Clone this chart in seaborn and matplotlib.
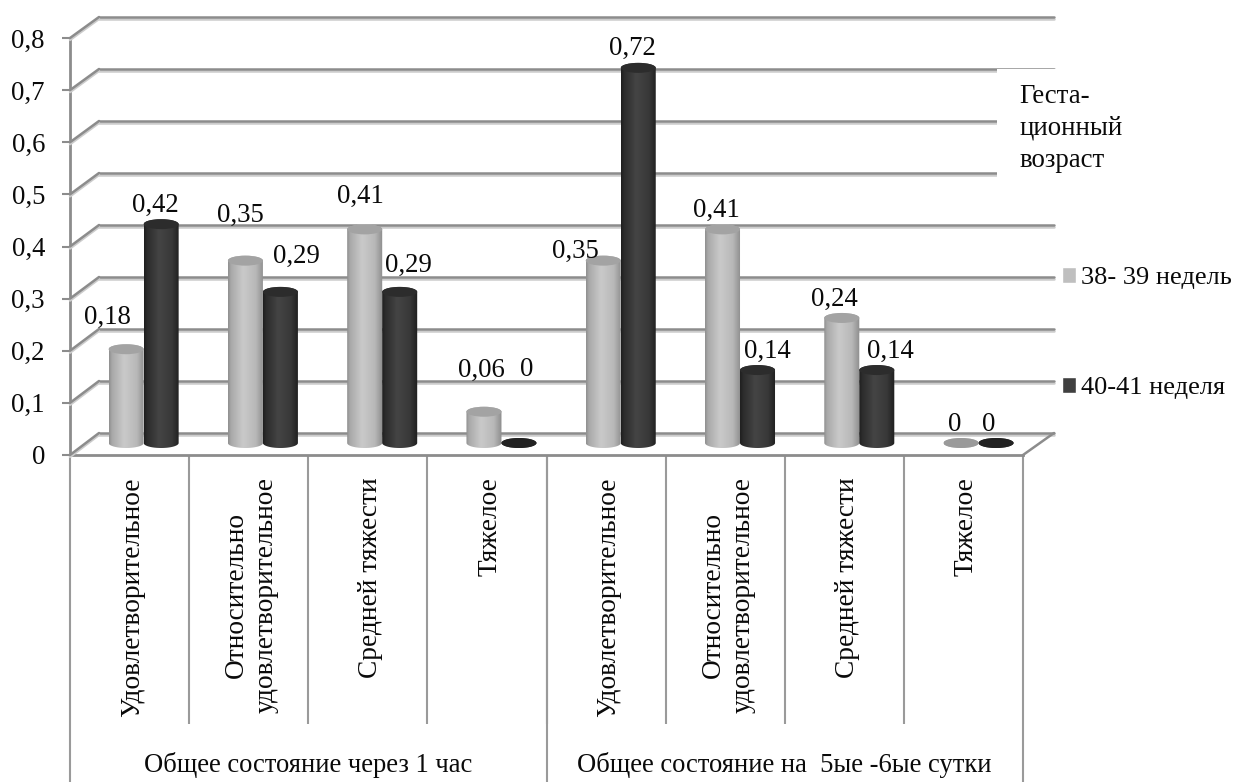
import numpy as np
import pandas as pd
import seaborn as sns
import matplotlib
matplotlib.use("Agg")
import matplotlib.pyplot as plt
from matplotlib.patches import Ellipse, PathPatch, Patch, Rectangle, ConnectionPatch
from matplotlib.path import Path
from matplotlib.patheffects import SimpleLineShadow, Normal
from matplotlib.ticker import FuncFormatter

# ---- data ----
groups = ["Общее состояние через 1 час", "Общее состояние на  5ые -6ые сутки"]
conditions = ["Удовлетворительное", "Относительно\nудовлетворительное", "Средней тяжести", "Тяжелое"]
series_names = ["38- 39 недель", "40-41 неделя"]
values_38_39 = [0.18, 0.35, 0.41, 0.06, 0.35, 0.41, 0.24, 0.0]
values_40_41 = [0.42, 0.29, 0.29, 0.0, 0.72, 0.14, 0.14, 0.0]
value_ticks = [0, 0.1, 0.2, 0.3, 0.4, 0.5, 0.6, 0.7, 0.8]
legend_title = "Геста-\nционный\nвозраст"

# ---- style / layout (pixels) ----
W, H = 1234, 782
FS = 19.3
GRID = "#8c8c8c"
SEP = "#9a9a9a"
LIGHT, DARK = "#bfbfbf", "#404040"
label_shift_38 = [(-19, 34), (-5, 48), (-4, 35), (-3, 44), (-28, 12), (-6, 21), (-7, 21), (-6, 21)]
label_shift_40 = [(-6, 21), (16, 38), (9, 29), (8, 76), (-6, 22), (10, 21), (14, 21), (-7, 21)]
DIGIT_HALF = 9  # px between the digit centre and the baseline

sns.set_theme(style="white")
plt.rcParams["font.family"] = ["Liberation Serif", "DejaVu Serif"]
plt.rcParams["text.color"] = "#0a0a0a"

fig = plt.figure(figsize=(W / 100, H / 100), dpi=100, facecolor="white")


def axes_px(left, right, top, bottom):
    return fig.add_axes([left / W, 1 - bottom / H, (right - left) / W, (bottom - top) / H])


# back wall
wall = axes_px(99, 1054, 17, 433)
wall.set_xlim(0, 8)
wall.set_ylim(0, 0.8)
wall.set_yticks(value_ticks)
wall.set_xticks([])
wall.tick_params(length=0, labelleft=False)
wall.grid(True, axis="y", color=GRID, lw=1.8)
for ln in wall.get_ygridlines():
    ln.set_clip_on(False)
    ln.set_path_effects([SimpleLineShadow(offset=(0, -1.6), shadow_color="#cccccc", alpha=1), Normal()])
sns.despine(ax=wall, left=True, bottom=True)
wall.patch.set_alpha(0)
wall.add_patch(Rectangle((7.52, 0.45), 0.6, 0.25, fc="white", ec="none", zorder=5, clip_on=False))

# front axis
front = axes_px(70, 1023, 38, 455)
front.patch.set_alpha(0)
front.set_xlim(0, 8)
front.set_ylim(0, 0.8)
front.set_yticks(value_ticks)
front.yaxis.set_major_formatter(FuncFormatter(lambda v, _: f"{v:.1f}".replace(".", ",") if v else "0"))
front.tick_params(axis="y", length=5.5, width=1.5, color=GRID, pad=12.5, labelsize=FS, left=True)
sns.despine(ax=front, top=True, right=True)
for side in ("left", "bottom"):
    front.spines[side].set_color(GRID)
    front.spines[side].set_linewidth(2.0)
for lbl in front.get_yticklabels():
    lbl.set_color("#0a0a0a")

# multi-level category axis
front.set_xticks(range(1, 8))
front.tick_params(axis="x", which="major", length=269 * 0.72, width=1.5, color=SEP, labelbottom=False, bottom=True)
front.set_xticks(np.arange(8) + 0.525, [c for _ in groups for c in conditions], minor=True)
front.tick_params(axis="x", which="minor", length=0, pad=16, labelsize=19.7, labelcolor="#0a0a0a")
for lbl in front.get_xticklabels(minor=True):
    lbl.set_rotation(90)
    lbl.set_va("top")
    lbl.set_ha("center")
    lbl.set_multialignment("center")
    lbl.set_linespacing(1.25)
trans = front.get_xaxis_transform()
front.vlines([0, 4, 8], 0, (455 - 782) / 417, transform=trans, color=SEP, lw=1.5, clip_on=False)
for gx, g in zip([2, 6], groups):
    front.text(gx, (455 - 765) / 417, g, transform=trans, ha="center", va="center", fontsize=19.15)

# depth connectors
for v in value_ticks:
    fig.add_artist(ConnectionPatch((0, v), (0, v), coordsA=front.transData, coordsB=wall.transData,
                                   color=GRID, lw=1.8, path_effects=[SimpleLineShadow(offset=(0, -1.4), shadow_color="#cccccc", alpha=1), Normal()]))
fig.add_artist(ConnectionPatch((8, 0), (8, 0), coordsA=front.transData, coordsB=wall.transData, color=GRID, lw=1.8))

# bars
U = 521.0
ZERO = 443.0
bars = axes_px(84, 1038.2, ZERO - 0.85 * U, ZERO + 0.05 * U)
bars.patch.set_alpha(0)
keys = [f"{g}|{c}" for g in groups for c in conditions]
df = pd.DataFrame({
    "key": keys * 2,
    "value": values_38_39 + values_40_41,
    "series": [series_names[0]] * 8 + [series_names[1]] * 8,
})
sns.barplot(data=df, x="key", y="value", hue="series", order=keys, hue_order=series_names,
            palette=[LIGHT, DARK], width=0.587, gap=0, saturation=1, legend=False, ax=bars)
bars.set_xlim(-0.5, 7.5)
bars.set_ylim(-0.05, 0.85)
bars.axis("off")

cap_h = 10.0 / U
stops = [0, 0.08, 0.42, 0.78, 1]
shades = {0: ([0.56, 0.66, 0.79, 0.72, 0.55], "#a3a3a3", "#9a9a9a"),
          1: ([0.12, 0.17, 0.27, 0.22, 0.12], "#2c2c2c", "#222222")}
xs = np.linspace(0, 1, 128)
t = np.linspace(0, np.pi, 40)
for s, (cont, vals, shifts) in enumerate(zip(bars.containers, [values_38_39, values_40_41],
                                             [label_shift_38, label_shift_40])):
    grad_vals, cap_col, zero_col = shades[s]
    for rect, val, (dx, dy) in zip(cont, vals, shifts):
        rect.set_visible(False)
        x0, w, h = rect.get_x(), rect.get_width(), rect.get_height()
        cx = x0 + w / 2
        upper = np.column_stack([cx - w / 2 * np.cos(t), h + cap_h / 2 * np.sin(t)])
        lower = np.column_stack([cx + w / 2 * np.cos(t), -cap_h / 2 * np.sin(t)])
        verts = np.vstack([upper, lower, upper[:1]])
        body = PathPatch(Path(verts), fc="none", ec="none", transform=bars.transData)
        bars.add_patch(body)
        im = bars.imshow(np.interp(xs, stops, grad_vals)[None, :], cmap="gray", vmin=0, vmax=1,
                         extent=(x0, x0 + w, -cap_h, h + cap_h), aspect="auto", zorder=3, interpolation="bilinear")
        im.set_clip_path(body)
        bars.add_patch(Ellipse((cx, h), w, cap_h, fc=zero_col if h == 0 else cap_col, ec="none", zorder=4))
        txt = f"{val:g}".replace(".", ",")
        bars.annotate(txt, (cx, h), xytext=(dx * 0.72, (dy - DIGIT_HALF) * 0.72), textcoords="offset points",
                      ha="center", va="baseline", fontsize=FS, zorder=6, annotation_clip=False)
bars.set_xlim(-0.5, 7.5)
bars.set_ylim(-0.05, 0.85)

# legend
fig.text(1019 / W, 1 - 167 / H, legend_title, ha="left", va="baseline", fontsize=FS, linespacing=1.37)
fig.legend(handles=[Patch(fc=LIGHT, label=series_names[0]), Patch(fc=DARK, label=series_names[1])],
           loc="upper left", bbox_to_anchor=(1062 / W, 1 - 267 / H), frameon=False, fontsize=19.0,
           labelspacing=3.34, handlelength=0.53, handleheight=0.53, handletextpad=0.2, borderpad=0, borderaxespad=0)

fig.savefig("out.png", dpi=100)
